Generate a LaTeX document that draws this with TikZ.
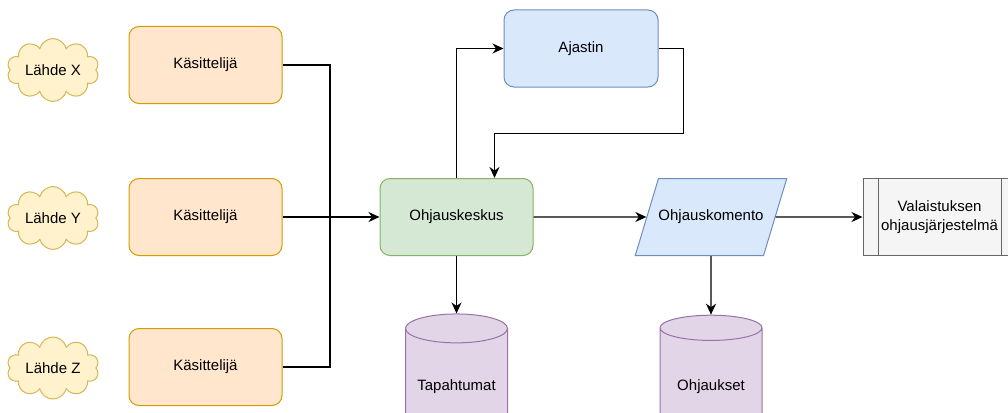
\documentclass[tikz,border=0pt]{standalone}
\usepackage{fontspec}
\setmainfont{Liberation Sans}
\usetikzlibrary{shapes.geometric,shapes.symbols,arrows.meta,positioning}
\definecolor{orangefill}{HTML}{FFE6CC}
\definecolor{orangeline}{HTML}{D79B00}
\definecolor{greenfill}{HTML}{D5E8D4}
\definecolor{greenline}{HTML}{82B366}
\definecolor{bluefill}{HTML}{DAE8FC}
\definecolor{blueline}{HTML}{6C8EBF}
\definecolor{purplefill}{HTML}{E1D5E7}
\definecolor{purpleline}{HTML}{9673A6}
\definecolor{cloudfill}{HTML}{FFF2CC}
\definecolor{cloudline}{HTML}{D6B656}
\definecolor{grayfill}{HTML}{F5F5F5}
\definecolor{grayline}{HTML}{666666}
\tikzset{
  lahde/.style = {cloud, cloud puffs=10, aspect=1.7, draw=cloudline, fill=cloudfill, inner sep=0pt, minimum width=92pt, minimum height=56pt},
  kasittelija/.style = {rectangle, rounded corners=10pt, draw=orangeline, fill=orangefill, minimum width=153pt, minimum height=77pt},
  keskus/.style = {rectangle, rounded corners=10pt, draw=greenline, fill=greenfill, minimum width=153pt, minimum height=77pt},
  ajastin/.style = {rectangle, rounded corners=10pt, draw=blueline, fill=bluefill, minimum width=154pt, minimum height=77pt},
  komento/.style = {trapezium, trapezium left angle=73, trapezium right angle=107, trapezium stretches body=true, draw=blueline, fill=bluefill, inner xsep=0pt, inner ysep=31pt, minimum width=146pt, minimum height=77pt},
  kanta/.style = {cylinder, shape border rotate=90, aspect=0.34, draw=purpleline, fill=purplefill, minimum width=102pt, minimum height=126pt},
  prosessi/.style = {rectangle, draw=grayline, fill=grayfill, minimum width=153pt, minimum height=77pt, align=center,
    path picture={\draw[grayline] ([xshift=15pt]path picture bounding box.north west) -- ([xshift=15pt]path picture bounding box.south west);
                  \draw[grayline] ([xshift=-15pt]path picture bounding box.north east) -- ([xshift=-15pt]path picture bounding box.south east);}},
}

\begin{document}
\begin{tikzpicture}[x=1pt,y=-1pt,line width=1pt,font=\fontsize{15}{19}\selectfont,
    arr/.style={black,line width=1.4pt,-{Stealth[length=11pt,width=10pt,inset=3.5pt]}},
    viiva/.style={black,line width=1.4pt}]
  \useasboundingbox (0,0) rectangle (1008,412);
  \clip (0,0) rectangle (1008,412);

  \node[kasittelija] (kas_Y) at (205.5,217) {Käsittelijä};
  \node[kasittelija] (kas_X) at (205.5,65) {Käsittelijä};
  \node[kasittelija] (kas_Z) at (205.5,367) {Käsittelijä};
  \node[lahde] (lahde_X) at (53,70) {Lähde X};
  \node[lahde] (lahde_Y) at (53,218) {Lähde Y};
  \node[lahde] (lahde_Z) at (53,368) {Lähde Z};
  \node[keskus] (keskus) at (456.5,217) {Ohjauskeskus};
  \node[ajastin] (ajastin) at (581,48.5) {Ajastin};
  \node[komento] (komento) at (711,217) {Ohjauskomento};
  \node[prosessi] (valaistus) at (939.5,217) {Valaistuksen\\ohjausjärjestelmä};
  \node[kanta] (tapahtumat) at (456.5,387) {Tapahtumat};
  \node[kanta] (ohjaukset) at (711,387) {Ohjaukset};
  \coordinate (yhdys) at (330,217);

  \draw[viiva] (kas_X.east) -| (yhdys);
  \draw[viiva] (kas_Z.east) -| (yhdys);
  \draw[arr] (kas_Y.east) -- (keskus.west);
  \draw[arr] (keskus.north) |- (ajastin.west);
  \draw[arr] (ajastin.east) -| ++(25,85) -| ([xshift=38pt]keskus.north);
  \draw[arr] (keskus.east) -- (komento);
  \draw[arr] (komento) -- (valaistus.west);
  \draw[arr] (keskus.south) -- (tapahtumat.top);
  \draw[arr] (komento.south) -- (ohjaukset.top);
\end{tikzpicture}
\end{document}
